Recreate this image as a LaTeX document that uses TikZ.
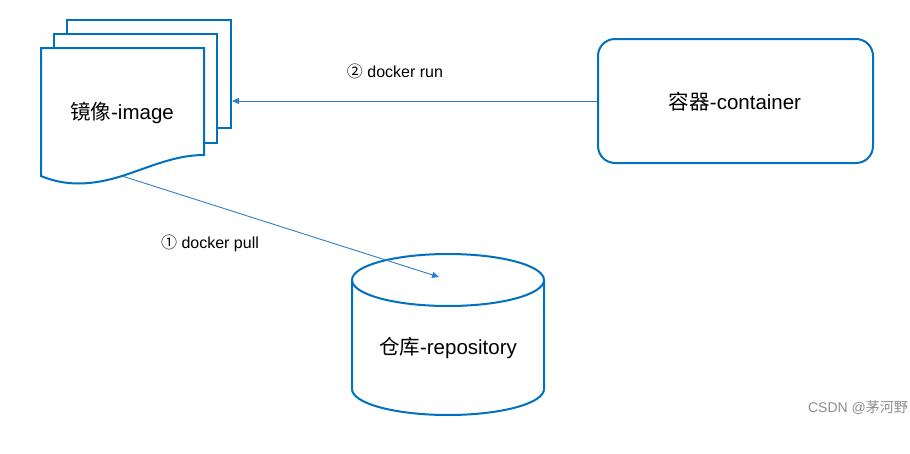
\documentclass[tikz,border=0pt]{standalone}
\usepackage{fontspec}
\setmainfont{Liberation Sans}
\newfontfamily\cjk{Noto Sans CJK SC}
\usetikzlibrary{arrows.meta}
\definecolor{boxblue}{RGB}{0,112,192}
\definecolor{lineblue}{RGB}{46,125,200}

\begin{document}
\begin{tikzpicture}[x=1pt,y=-1pt,
    box/.style={draw=boxblue,line width=2pt,fill=white},
    conn/.style={draw=lineblue,line width=0.9pt,-{Triangle[length=7pt,width=6pt]}},
    big/.style={font=\fontsize{20.5}{24}\selectfont},
    small/.style={font=\fontsize{16}{19}\selectfont}]
    \useasboundingbox (0,0) rectangle (910,453);

    % image pages
    \node (back) at (149,74) [box,rectangle,inner sep=0pt,minimum width=164pt,minimum height=108pt] {};
    \node (mid) at (135.5,88.5) [box,rectangle,inner sep=0pt,minimum width=163pt,minimum height=109pt] {};
    \draw [box] (41,48) -- (204,48) -- (204,155)
        .. controls (175,155) and (150,167) .. (122,176)
        .. controls (90,186) and (65,186) .. (41,176) -- cycle;
    \coordinate (imgbot) at (122,176);
    \node (img) at (122,113) [big] {{\cjk 镜像}-image};

    % container
    \node (cont) at (735.5,101) [box,rectangle,rounded corners=17pt,inner sep=0pt,minimum width=275pt,minimum height=124pt] {};
    \node (conttext) at (735,102) [big] {{\cjk 容器}-container};

    % repository
    \draw [box] (352,280) -- (352,389) arc [start angle=180,end angle=0,x radius=96,y radius=26]
        -- (544,280) arc [start angle=0,end angle=-180,x radius=96,y radius=26] -- cycle;
    \draw [draw=boxblue,line width=2pt] (352,280) arc [start angle=180,end angle=0,x radius=96,y radius=26];
    \node (repo) at (448,348) [big] {{\cjk 仓库}-repository};
    \coordinate (repotop) at (439,277);

    % arrows
    \draw [conn] (cont.west) -- (back.east |- cont.west);
    \draw [conn] (imgbot) -- (repotop);
    \node (run) at (395,71) [small] {{\cjk ②} docker run};
    \node (pull) at (210,243) [small] {{\cjk ①} docker pull};

    \node (mark) at (858,408) [color=black!45,font=\fontsize{14}{16}\selectfont] {CSDN @{\cjk 茅河野}};
\end{tikzpicture}
\end{document}
